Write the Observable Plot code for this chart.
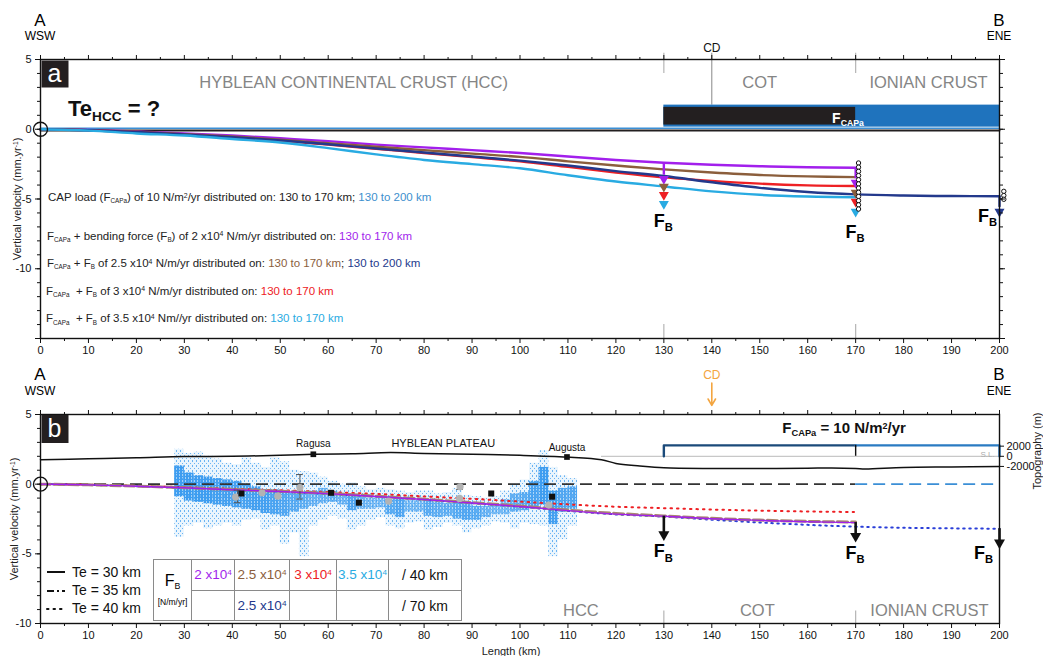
<!DOCTYPE html>
<html><head><meta charset="utf-8">
<script src="https://cdn.jsdelivr.net/npm/d3@7"></script>
<script src="https://cdn.jsdelivr.net/npm/@observablehq/plot@0.6"></script>
<style>
body{margin:0;background:#fff;font-family:"Liberation Sans",Arial,sans-serif;}
#wrap{position:relative;width:1043px;height:656px;overflow:hidden;background:#fff;}
.abs{position:absolute;white-space:nowrap;line-height:1;}
sub{font-size:0.6em;vertical-align:baseline;position:relative;top:0.35em;}
sup{font-size:0.6em;vertical-align:baseline;position:relative;top:-0.5em;}
table.fb{border-collapse:collapse;font-size:13.5px;}
table.fb td{border:1px solid #8a8a8a;text-align:center;padding:0;}
</style></head><body><div id="wrap"></div>
<script>
// ---------------- DATA ----------------
// Panel a : modelled vertical velocity (mm/yr) along profile (km)
const kmA = [0,10,20,30,40,50,60,70,80,90,100,110,120,130,140,150,160,170];
const kmA200 = [0,10,20,30,40,50,60,70,80,90,100,110,120,130,140,150,160,170,180,190,200];
const vA_fb20 = [0,-0.05,-0.15,-0.3,-0.45,-0.65,-0.85,-1.1,-1.3,-1.5,-1.7,-1.95,-2.2,-2.4,-2.55,-2.65,-2.72,-2.76];
const vA_fb25 = [0,-0.06,-0.18,-0.35,-0.52,-0.75,-1.0,-1.25,-1.5,-1.75,-1.98,-2.3,-2.6,-2.88,-3.1,-3.28,-3.38,-3.43];
const vA_fb30 = [0,-0.07,-0.2,-0.38,-0.58,-0.82,-1.1,-1.4,-1.7,-2.0,-2.3,-2.7,-3.1,-3.45,-3.7,-3.9,-4.02,-4.07];
const vA_fb35 = [0,-0.1,-0.3,-0.45,-0.7,-0.95,-1.35,-1.8,-2.2,-2.5,-2.8,-3.3,-3.75,-4.1,-4.45,-4.7,-4.82,-4.87];
const vA_fb25w = [0,-0.07,-0.2,-0.38,-0.57,-0.8,-1.08,-1.38,-1.67,-1.95,-2.25,-2.6,-3.0,-3.35,-3.8,-4.2,-4.5,-4.67,-4.75,-4.79,-4.8];
const capOnlyKm = [0,200];
const capOnlyV = [0,0];
// CAP load bars (km range, drawn height in velocity units)
const capFrom = [130,130];
const capTo = [200,170];
const capBase = [0.15,0.3];
const capTop = [1.73,1.57];
// F_B arrows in panel a
const fbArrowKm = [130,130,130,130,170,170,170,170,200];
const fbArrowV = [-3.64,-4.19,-4.79,-5.43,-3.9,-4.62,-5.26,-5.98,-5.98];
const fbArrowSeries = ["fb20","fb25","fb30","fb35","fb20","fb25","fb30","fb35","fb25w"];
const endCircles170 = [-2.42,-2.72,-3.02,-3.32,-3.62,-3.92,-4.22,-4.52,-4.82,-5.12,-5.42,-5.72];
const endCircles200 = [-4.45,-4.75,-5.02];

// Panel b : models
const kmB = [0,10,20,30,40,50,60,70,80,90,100,110,120,130,140,150,160,170];
const kmB200 = [0,10,20,30,40,50,60,70,80,90,100,110,120,130,140,150,160,170,180,190,200];
const vB_te30_fb20 = [0,-0.05,-0.15,-0.26,-0.4,-0.53,-0.68,-0.88,-1.1,-1.35,-1.6,-1.9,-2.15,-2.3,-2.48,-2.6,-2.7,-2.76];
const vB_te35_fb25 = [0,-0.05,-0.14,-0.25,-0.38,-0.51,-0.66,-0.86,-1.08,-1.32,-1.57,-1.86,-2.1,-2.28,-2.45,-2.58,-2.67,-2.72];
const vB_te40_fb30 = [0,-0.04,-0.12,-0.22,-0.33,-0.44,-0.56,-0.7,-0.88,-1.05,-1.25,-1.45,-1.62,-1.72,-1.82,-1.9,-1.96,-2.0];
const vB_te40_fb25w = [0,-0.05,-0.15,-0.26,-0.4,-0.54,-0.7,-0.9,-1.12,-1.37,-1.62,-1.92,-2.17,-2.33,-2.55,-2.75,-2.92,-3.05,-3.13,-3.17,-3.2];
// Panel b : InSAR velocity cloud, read per 2-km bin
const cloudKm = [29,31,33,35,37,39,41,43,45,47,49,51,53,55,57,59,61,63,65,67,69,71,73,75,77,79,81,83,85,87,89,91,93,95,97,99,101,103,105,107,109,111];
const cloudHi = [2.5,2.2,2.3,2.0,1.8,1.5,1.4,1.9,1.5,1.2,1.9,1.6,1.0,0.9,0.8,0.5,0.2,0.0,0.1,-0.2,-0.4,-0.3,-0.4,-0.5,-0.6,-0.5,-0.5,-0.7,-0.6,-0.3,-0.8,-0.9,-1.0,-0.9,-0.5,0.0,0.3,1.5,2.4,1.2,0.6,0.4];
const cloudLo = [-3.8,-3.0,-2.8,-3.2,-3.0,-2.8,-3.0,-2.6,-2.5,-3.3,-3.0,-4.3,-3.5,-5.2,-3.0,-2.6,-2.3,-2.5,-3.3,-3.0,-2.6,-2.4,-3.0,-3.2,-2.8,-2.7,-3.3,-3.1,-2.8,-3.0,-3.5,-3.2,-3.0,-2.7,-2.8,-3.2,-2.8,-2.9,-3.0,-5.2,-4.0,-3.0];
const coreHi = [1.3,0.8,0.6,0.5,0.4,0.3,0.2,0.0,-0.2,-0.4,-0.4,-0.5,-0.6,-0.6,-0.5,-0.3,-0.5,-0.8,-0.8,-0.9,-1.0,-1.0,-1.1,-1.0,-1.2,-1.2,-1.1,-1.3,-1.4,-1.3,-1.4,-1.6,-1.6,-1.5,-1.1,-0.7,-0.6,0.2,1.2,-0.5,-0.3,-0.2];
const coreLo = [-0.9,-1.2,-1.3,-1.4,-1.5,-1.6,-1.7,-1.8,-1.9,-2.1,-2.2,-2.3,-2.0,-1.8,-1.6,-1.4,-1.3,-1.5,-1.9,-1.8,-1.8,-1.7,-2.2,-2.4,-2.0,-2.0,-2.3,-2.4,-2.3,-2.5,-2.6,-2.6,-2.4,-2.2,-2.2,-2.0,-1.9,-1.6,-1.5,-2.9,-2.0,-1.8];
const cloudDensity = [1,1,1,1,0.9,0.9,0.9,0.8,0.9,0.9,0.8,0.7,0.6,0.5,0.4,0.4,0.5,0.4,0.7,0.4,0.3,0.3,0.6,0.7,0.3,0.3,0.6,0.5,0.5,0.6,0.7,0.6,0.4,0.3,0.3,0.5,0.6,0.8,1,0.9,0.7,0.7];
// GNSS (black squares) and levelling (grey dots)
const gpsKm = [41.9,60.6,66.4,94.0,106.7];
const gpsV = [-0.67,-0.62,-1.33,-0.67,-0.9];
const levKm = [40.7,46.2,49.5,54.1,72.6,87.5,87.4,106.0];
const levV = [-0.93,-0.62,-0.86,-0.24,-1.21,-0.19,-1.02,-1.5];
const errKm = [41.1,54.1,87.5];
const errHi = [-0.43,0.69,-0.02];
const errLo = [-1.33,-1.07,-0.38];
// Topography (m)
const topoKm = [0,10,20,30,40,50,56.9,65,73,80,90,100,109.8,117,120,125,130,140,150,160,165,170,172,180,190,200];
const topoM = [-660,-500,-300,-60,0,200,400,500,740,560,400,200,-140,-660,-1400,-1900,-2260,-2400,-2400,-2350,-2300,-2400,-2500,-2200,-2100,-2000];
const townNames = ["Ragusa","Augusta"];
const townKm = [56.9,109.8];
const topoTicks = [2000,0,-2000];
const capBKm = [130,170,200];
const capBTopM = 2150;
// arrows in panel b
const fbBKm = [130,170,200];
const fbBV1 = [-2.3,-2.76,-3.2];
const fbBV2 = [-4.12,-4.24,-4.71];
// axes ticks
const xMajor = [0,10,20,30,40,50,60,70,80,90,100,110,120,130,140,150,160,170,180,190,200];
const xMinor = [5,15,25,35,45,55,65,75,85,95,105,115,125,135,145,155,165,175,185,195];
const yMajorA = [-15,-10,-5,0,5];
const yLabelsA = [-10,-5,0,5];
const yMajorB = [-10,-5,0,5];
const regionA = ["HYBLEAN CONTINENTAL CRUST (HCC)","COT","IONIAN CRUST"];
const regionAKm = [65.3,150,185.2];
const regionB = ["HCC","COT","IONIAN CRUST"];
const regionBKm = [112.7,149.5,185.4];
const boundaryKm = [130,170];

// ---------------- STYLE ----------------
const FONT = '"Liberation Sans", Arial, sans-serif';
const COL = {fb20:"#a21fec", fb25:"#8b5e3c", fb30:"#ee2024", fb35:"#29abe2", fb25w:"#23398c", cap200:"#1f73bd", cap170:"#231f20"};
const GREY = "#858585";
const REGION_FS = 16.5;
const wrap = document.getElementById("wrap");
const tv = m => 2.0 + m / 2750; // topography (m) -> velocity-axis units
const rows = (xs, vs) => xs.map((k, i) => ({km: k, v: vs[i]}));
const triDown = {draw(ctx, size){const s = Math.sqrt(size / Math.PI); ctx.moveTo(-s, -s*0.8); ctx.lineTo(s, -s*0.8); ctx.lineTo(0, s*0.95); ctx.closePath();}};

function frameAxes(yMajor, yLabels, yMinor, rightTicks) {
  const m = [
    Plot.axisX({anchor:"bottom", ticks:xMajor, tickSize:5, tickPadding:3, label:null, fontSize:11, tickFormat:d=>String(d)}),
    Plot.axisX({anchor:"bottom", ticks:xMinor, tickSize:3, text:null, label:null}),
    Plot.axisX({anchor:"top", ticks:xMajor, tickSize:5, text:null, label:null}),
    Plot.axisX({anchor:"top", ticks:xMinor, tickSize:3, text:null, label:null}),
    Plot.axisY({anchor:"left", ticks:yMajor, tickSize:5, tickPadding:4, label:null, fontSize:11, tickFormat:d=> yLabels.includes(d) ? String(d) : ""}),
    Plot.axisY({anchor:"left", ticks:yMinor, tickSize:3, text:null, label:null}),
    Plot.frame({stroke:"#111", strokeWidth:1.4})
  ];
  if (rightTicks) {
    m.push(Plot.axisY({anchor:"right", ticks:yMajor, tickSize:5, text:null, label:null}));
    m.push(Plot.axisY({anchor:"right", ticks:yMinor, tickSize:3, text:null, label:null}));
  }
  return m;
}

// ---------------- PANEL A ----------------
const capRows = capFrom.map((f, i) => ({x1:f, x2:capTo[i], y1:capBase[i], y2:capTop[i], c: i === 0 ? COL.cap200 : COL.cap170}));
const arrowRowsA = fbArrowKm.map((k, i) => ({km:k, v:fbArrowV[i], c:COL[fbArrowSeries[i]]}));
const shaftsA = [
  {km:130, v1:vA_fb20[13], v2:-3.3, c:COL.fb20},
  {km:170, v1:vA_fb20[17], v2:-3.55, c:COL.fb20},
  {km:200, v1:vA_fb25w[20], v2:-5.6, c:COL.fb25w}
];
const yMinorA = [-15,-14,-13,-12,-11,-10,-9,-8,-7,-6,-5,-4,-3,-2,-1,0,1,2,3,4,5];
const plotA = Plot.plot({
  width:1043, height:370, marginLeft:40, marginRight:44, marginTop:59, marginBottom:32,
  x:{domain:[0,200]}, y:{domain:[-15,5]}, color:{type:"identity"},
  style:{fontFamily:FONT, fontSize:"11px", background:"transparent", overflow:"visible", color:"#111"},
  marks:[
    Plot.ruleX([140], {y1:1.73, y2:5.45, stroke:"#888", strokeWidth:1}),
    Plot.ruleX(boundaryKm, {y1:4.0, y2:5.45, stroke:"#b5b5b5", strokeWidth:1.2}),
    Plot.ruleX(boundaryKm, {y1:-15, y2:-14, stroke:"#b5b5b5", strokeWidth:1.2}),
    Plot.rect(capRows, {x1:"x1", x2:"x2", y1:"y1", y2:"y2", fill:"c"}),
    Plot.line(rows(capOnlyKm, capOnlyV), {x:"km", y:"v", stroke:COL.cap170, strokeWidth:2, dy:1.2}),
    Plot.line(rows(capOnlyKm, capOnlyV), {x:"km", y:"v", stroke:"#3b8fd6", strokeWidth:1.4, dy:-1}),
    Plot.line(rows(kmA, vA_fb20), {x:"km", y:"v", stroke:COL.fb20, strokeWidth:2.4, curve:"catmull-rom"}),
    Plot.line(rows(kmA, vA_fb25), {x:"km", y:"v", stroke:COL.fb25, strokeWidth:2.4, curve:"catmull-rom"}),
    Plot.line(rows(kmA, vA_fb30), {x:"km", y:"v", stroke:COL.fb30, strokeWidth:2.4, curve:"catmull-rom"}),
    Plot.line(rows(kmA200, vA_fb25w), {x:"km", y:"v", stroke:COL.fb25w, strokeWidth:2.4, curve:"catmull-rom"}),
    Plot.line(rows(kmA, vA_fb35), {x:"km", y:"v", stroke:COL.fb35, strokeWidth:2.4, curve:"catmull-rom"}),
    Plot.ruleX(shaftsA, {x:"km", y1:"v1", y2:"v2", stroke:"c", strokeWidth:2.4}),
    Plot.dot(arrowRowsA, {x:"km", y:"v", fill:"c", r:5, symbol:triDown}),
    Plot.dot(endCircles170.map(v => ({km:170.6, v})), {x:"km", y:"v", r:2.2, fill:"white", stroke:"#111", strokeWidth:1}),
    Plot.dot(endCircles200.map(v => ({km:200.9, v})), {x:"km", y:"v", r:2.2, fill:"white", stroke:"#111", strokeWidth:1}),
    Plot.dot([{km:0, v:0}], {x:"km", y:"v", r:7, fill:"none", stroke:"#111", strokeWidth:1.4}),
    Plot.text(regionA.map((t, i) => ({t, km:regionAKm[i], v:3.3})), {x:"km", y:"v", text:"t", fill:GREY, fontSize:REGION_FS}),
    Plot.text([{t:"CD", km:140, v:5.8}], {x:"km", y:"v", text:"t", fill:"#111", fontSize:12}),
    ...frameAxes(yMajorA, yLabelsA, yMinorA, true)
  ]
});

// ---------------- PANEL B ----------------
const cloudRows = cloudKm.map((k, i) => ({x1:k-1, x2:k+1, hi:cloudHi[i], lo:cloudLo[i], chi:coreHi[i], clo:coreLo[i], d:cloudDensity[i]}));
const capLineNavy = [{km:capBKm[0], v:tv(0)}, {km:capBKm[0], v:tv(capBTopM)}, {km:capBKm[1], v:tv(capBTopM)}];
const capLineBlue = [{km:capBKm[1], v:tv(capBTopM)}, {km:capBKm[2], v:tv(capBTopM)}, {km:capBKm[2], v:tv(0)}];
const yMinorB = [-10,-9,-8,-7,-6,-5,-4,-3,-2,-1,0,1,2,3,4,5];
const topoTickV = topoTicks.map(tv);
const plotB = Plot.plot({
  width:1043, height:286, marginLeft:40, marginRight:44, marginTop:44, marginBottom:33,
  x:{domain:[0,200]}, y:{domain:[-10,5]}, color:{type:"identity"},
  style:{fontFamily:FONT, fontSize:"11px", background:"transparent", overflow:"visible", color:"#111"},
  marks:[
    // base (flat) layers of the InSAR cloud
    Plot.rect(cloudRows, {x1:"x1", x2:"x2", y1:"lo", y2:"hi", fill:"#5aaef2", fillOpacity:0.13}),
    Plot.rect(cloudRows, {x1:"x1", x2:"x2", y1:"clo", y2:"chi", fill:"#4aa3ef", fillOpacity:d => 0.15 + 0.3*d.d}),
    // speckled layers (fills replaced by patterns below)
    Plot.rect(cloudRows, {x1:"x1", x2:"x2", y1:"lo", y2:"hi", fill:"#4ba4f1", fillOpacity:0.8}),
    Plot.rect(cloudRows, {x1:"x1", x2:"x2", y1:"clo", y2:"chi", fill:"#3e9df0", fillOpacity:d => 0.4 + 0.6*d.d}),
    Plot.ruleY([tv(0)], {x1:117, x2:200, stroke:"#c8c8c8", strokeWidth:1.2}),
    Plot.line(capLineNavy, {x:"km", y:"v", stroke:"#1b4a7a", strokeWidth:2.4}),
    Plot.line(capLineBlue, {x:"km", y:"v", stroke:"#2a7bc2", strokeWidth:2.4}),
    Plot.ruleX([capBKm[1]], {y1:tv(0), y2:tv(capBTopM), stroke:"#111", strokeWidth:1.4}),
    Plot.line(rows(topoKm, topoM.map(tv)), {x:"km", y:"v", stroke:"#111", strokeWidth:1.5, curve:"catmull-rom"}),
    Plot.dot(townKm.map(k => ({km:k, v:tv(topoM[topoKm.indexOf(k)])})), {x:"km", y:"v", symbol:"square", r:3.2, fill:"#111"}),
    Plot.text(townNames.map((t, i) => ({t, km:townKm[i], v: i === 0 ? 2.93 : 2.64})), {x:"km", y:"v", text:"t", fontSize:10, fill:"#111"}),
    Plot.text([{t:"HYBLEAN PLATEAU", km:84, v:2.93}], {x:"km", y:"v", text:"t", fontSize:11, fill:"#111"}),
    Plot.ruleY([0], {x1:0, x2:170, stroke:"#333", strokeWidth:1.6, strokeDasharray:"12,6"}),
    Plot.ruleY([0], {x1:170, x2:200, stroke:"#3b8fd6", strokeWidth:1.6, strokeDasharray:"12,6"}),
    Plot.line(rows(kmB, vB_te40_fb30), {x:"km", y:"v", stroke:COL.fb30, strokeWidth:2, strokeDasharray:"1.5,5", strokeLinecap:"round", curve:"catmull-rom"}),
    Plot.line(rows(kmB200, vB_te40_fb25w), {x:"km", y:"v", stroke:"#2b3fd8", strokeWidth:2, strokeDasharray:"1.5,4.5", strokeLinecap:"round", curve:"catmull-rom"}),
    Plot.line(rows(kmB, vB_te35_fb25), {x:"km", y:"v", stroke:"#a88670", strokeWidth:3, strokeDasharray:"10,4", curve:"catmull-rom"}),
    Plot.line(rows(kmB, vB_te30_fb20), {x:"km", y:"v", stroke:COL.fb20, strokeWidth:1.4, curve:"catmull-rom"}),
    Plot.ruleX(errKm.map((k, i) => ({km:k, hi:errHi[i], lo:errLo[i]})), {x:"km", y1:"lo", y2:"hi", stroke:"#555", strokeWidth:1}),
    Plot.ruleY(errKm.flatMap((k, i) => [{y:errHi[i], a:k-0.7, b:k+0.7}, {y:errLo[i], a:k-0.7, b:k+0.7}]), {y:"y", x1:"a", x2:"b", stroke:"#555", strokeWidth:1}),
    Plot.dot(rows(levKm, levV), {x:"km", y:"v", r:3.6, fill:"#b3b3b3"}),
    Plot.dot(rows(gpsKm, gpsV), {x:"km", y:"v", symbol:"square", r:3.4, fill:"#111"}),
    Plot.ruleX(fbBKm.map((k, i) => ({km:k, v1:fbBV1[i], v2:fbBV2[i] + 0.55})), {x:"km", y1:"v1", y2:"v2", stroke:"#111", strokeWidth:2.6}),
    Plot.dot(fbBKm.map((k, i) => ({km:k, v:fbBV2[i] + 0.42})), {x:"km", y:"v", r:5.5, fill:"#111", symbol:triDown}),
    Plot.dot([{km:0, v:0}], {x:"km", y:"v", r:7, fill:"none", stroke:"#111", strokeWidth:1.4}),
    Plot.ruleX(boundaryKm, {y1:-10, y2:-9.1, stroke:"#b5b5b5", strokeWidth:1.2}),
    Plot.text(regionB.map((t, i) => ({t, km:regionBKm[i], v:-9.1})), {x:"km", y:"v", text:"t", fill:GREY, fontSize:REGION_FS}),
    Plot.text([{t:"S.L.", km:197.5, v:2.14}], {x:"km", y:"v", text:"t", fill:"#aaa", fontSize:8}),
    Plot.arrow([{km:140, a:7.25, b:5.65}], {x:"km", y1:"a", y2:"b", stroke:"#f3a540", strokeWidth:1.6, headLength:7}),
    Plot.text([{t:"CD", km:140, v:7.8}], {x:"km", y:"v", text:"t", fill:"#f3a540", fontSize:12}),
    ...frameAxes(yMajorB, yMajorB, yMinorB, false),
    Plot.axisY({anchor:"right", ticks:topoTickV, tickSize:4, tickPadding:3, label:null, fontSize:11,
      tickFormat: d => String(topoTicks[topoTickV.findIndex(t => Math.abs(t - d) < 1e-6)])})
  ]
});

// speckled texture for the InSAR cloud (patterns built with DOM calls)
(function addPatterns(svg){
  const ns = "http://www.w3.org/2000/svg";
  const mk = (tag, attrs) => { const e = document.createElementNS(ns, tag); for (const k in attrs) e.setAttribute(k, attrs[k]); return e; };
  const defs = mk("defs", {});
  const p1 = mk("pattern", {id:"speckOuter", width:4, height:5, patternUnits:"userSpaceOnUse"});
  p1.appendChild(mk("rect", {x:0, y:0, width:1, height:2, fill:"#4ba4f1"}));
  p1.appendChild(mk("rect", {x:2, y:3, width:1, height:1, fill:"#4ba4f1"}));
  const p2 = mk("pattern", {id:"speckCore", width:3, height:3, patternUnits:"userSpaceOnUse"});
  p2.appendChild(mk("rect", {x:0, y:0, width:2, height:3, fill:"#3e9df0"}));
  p2.appendChild(mk("rect", {x:2, y:1, width:1, height:1, fill:"#3e9df0"}));
  defs.appendChild(p1); defs.appendChild(p2);
  svg.insertBefore(defs, svg.firstChild);
  svg.querySelectorAll('[fill="#4ba4f1"]').forEach(e => { if (e.parentNode !== p1) e.setAttribute("fill", "url(#speckOuter)"); });
  svg.querySelectorAll('[fill="#3e9df0"]').forEach(e => { if (e.parentNode !== p2) e.setAttribute("fill", "url(#speckCore)"); });
})(plotB);

// ---------------- PLACE ----------------
const boxA = document.createElement("div"); boxA.className = "abs"; boxA.style.left = "0px"; boxA.style.top = "0px"; boxA.appendChild(plotA); wrap.appendChild(boxA);
const boxB = document.createElement("div"); boxB.className = "abs"; boxB.style.left = "0px"; boxB.style.top = "370px"; boxB.appendChild(plotB); wrap.appendChild(boxB);

const sxA = plotA.scale("x"), syA = plotA.scale("y"), sxB = plotB.scale("x"), syB = plotB.scale("y");
const XA = k => sxA.apply(k), YA = v => syA.apply(v), XB = k => sxB.apply(k), YB = v => syB.apply(v) + 370;

function put(html, x, y, css = {}, anchor = "center", rot = 0) {
  const d = document.createElement("div");
  d.className = "abs"; d.innerHTML = html;
  d.style.left = x + "px"; d.style.top = y + "px";
  const tx = anchor === "center" ? "-50%" : anchor === "left" ? "0" : "-100%";
  d.style.transform = `translate(${tx},-50%)` + (rot ? ` rotate(${rot}deg)` : "");
  Object.assign(d.style, css);
  wrap.appendChild(d);
  return d;
}

// A/B direction labels
[[XA(0), 0], [XA(200), 1]].forEach(([x, i]) => {
  put(i ? "B" : "A", x, 20, {fontSize:"17px"});
  put(i ? "ENE" : "WSW", x, 36, {fontSize:"12px"});
  put(i ? "B" : "A", x, 374, {fontSize:"17px"});
  put(i ? "ENE" : "WSW", x, 390.5, {fontSize:"12px"});
});

// panel letters
put("a", 54.5, 73.5, {background:"#231f20", color:"#fff", width:"27px", height:"27px", fontSize:"25px", textAlign:"center", lineHeight:"25px"});
put("b", 54.5, 428.5, {background:"#231f20", color:"#fff", width:"27px", height:"28px", fontSize:"25px", textAlign:"center", lineHeight:"26px"});

put("Te<sub style='font-size:0.62em;top:0.4em'>HCC</sub> = ?", 68, 109, {fontSize:"22px", fontWeight:"bold", color:"#111"}, "left");

// y labels
put("Vertical velocity (mm.yr<sup>-1</sup>)", 17, YA(-5), {fontSize:"11px", color:"#222"}, "center", -90);
put("Vertical velocity (mm.yr<sup>-1</sup>)", 14, YB(-2.5), {fontSize:"11px", color:"#222"}, "center", -90);
put("Topography (m)", 1037, YB(tv(0)) - 5, {fontSize:"11px", color:"#222"}, "center", -90);
put("Length (km)", 511, 651, {fontSize:"11px", color:"#222"});

// F_CAPa labels
put("F<sub style='font-size:0.62em'>CAPa</sub>", XA(168.5), YA(0.79), {fontSize:"14px", fontWeight:"bold", color:"#fff"});
put("F<sub style='font-size:0.62em'>CAPa</sub> = 10 N/m<sup>2</sup>/yr", XB(167.7), YB(3.98), {fontSize:"15px", fontWeight:"bold", color:"#111"});

// F_B labels
const fbHtml = "F<sub style='font-size:0.62em;top:0.4em'>B</sub>";
put(fbHtml, XA(130), YA(-6.6), {fontSize:"18px", fontWeight:"bold"});
put(fbHtml, XA(170), YA(-7.38), {fontSize:"18px", fontWeight:"bold"});
put(fbHtml, XA(200) - 2, YA(-6.24), {fontSize:"18px", fontWeight:"bold"}, "right");
put(fbHtml, XB(130), YB(-4.86), {fontSize:"18px", fontWeight:"bold"});
put(fbHtml, XB(170), YB(-4.95), {fontSize:"18px", fontWeight:"bold"});
put(fbHtml, XB(200) - 6, YB(-4.95), {fontSize:"18px", fontWeight:"bold"}, "right");

// panel a legend text
const S = "<sub style='font-size:0.55em'>CAPa</sub>", B = "<sub style='font-size:0.55em'>B</sub>";
const c = (col, t) => `<span style="color:${col}">${t}</span>`;
const legendA = [
  [48, 198, `CAP load (F${S}) of 10 N/m<sup>2</sup>/yr distributed on: 130 to 170 km; ${c("#3d8fce","130 to 200 km")}`],
  [47, 236.7, `F${S} + bending force (F${B}) of 2 x10<sup>4</sup> N/m/yr distributed on: ${c(COL.fb20,"130 to 170 km")}`],
  [47, 264, `F${S} + F${B} of 2.5 x10<sup>4</sup> N/m/yr distributed on: ${c(COL.fb25,"130 to 170 km")}; ${c(COL.fb25w,"130 to 200 km")}`],
  [46, 291.7, `F${S} &nbsp;+ F${B} of 3 x10<sup>4</sup> N/m/yr distributed on: ${c(COL.fb30,"130 to 170 km")}`],
  [46, 319.3, `F${S} &nbsp;+ F${B} of 3.5 x10<sup>4</sup> Nm//yr distributed on: ${c(COL.fb35,"130 to 170 km")}`]
];
legendA.forEach(([x, y, h]) => put(h, x, y, {fontSize:"11.5px", color:"#222"}, "left"));

// Te legend (panel b)
const teStyles = [["Te = 30 km", ""], ["Te = 35 km", "7,3,2,3"], ["Te = 40 km", "1.5,5"]];
teStyles.forEach(([t, dash], i) => {
  const y = [571.7, 590, 608.3][i];
  put(`<svg width="20" height="6" style="vertical-align:middle"><line x1="1" y1="3" x2="19" y2="3" stroke="#111" stroke-width="2" ${dash ? `stroke-dasharray="${dash}"` : ""} stroke-linecap="${i===2?"round":"butt"}"/></svg>`, 46, y, {}, "left");
  put(t, 72, y, {fontSize:"14px", color:"#111"}, "left");
});

// F_B table
const sup4 = "<sup>4</sup>";
const tbl = document.createElement("div");
tbl.className = "abs";
tbl.style.left = "153px"; tbl.style.top = "559px"; tbl.style.background = "#fff";
tbl.innerHTML = `<table class="fb" style="width:309px;height:61px">
<colgroup><col style="width:38px"><col style="width:43px"><col style="width:55px"><col style="width:47px"><col style="width:52px"><col style="width:73px"></colgroup>
<tr style="height:31px"><td rowspan="2"><div style="font-size:16px;line-height:1">F<sub style='font-size:0.55em;top:0.3em'>B</sub></div><div style="font-size:8.5px;margin-top:9px">[N/m/yr]</div></td>
<td style="color:${COL.fb20}">2 x10${sup4}</td><td style="color:${COL.fb25}">2.5 x10${sup4}</td><td style="color:${COL.fb30}">3 x10${sup4}</td><td style="color:${COL.fb35}">3.5 x10${sup4}</td><td style="color:#111;font-size:14px">/ 40 km</td></tr>
<tr style="height:30px"><td></td><td style="color:${COL.fb25w}">2.5 x10${sup4}</td><td></td><td></td><td style="color:#111;font-size:14px">/ 70 km</td></tr>
</table>`;
wrap.appendChild(tbl);
</script></body></html>
